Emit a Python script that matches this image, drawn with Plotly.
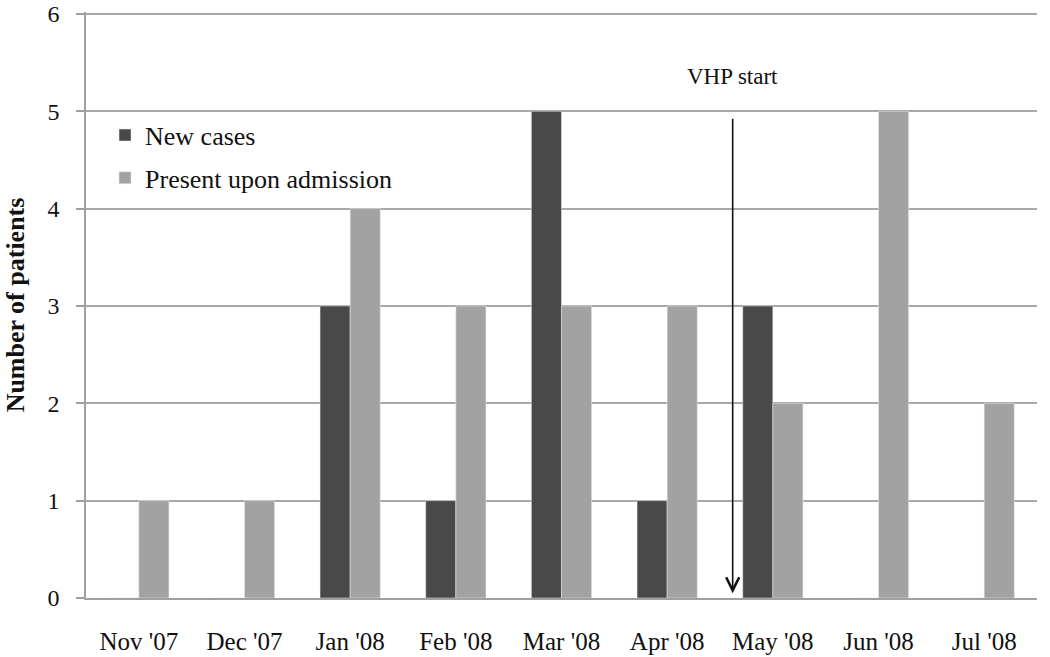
import plotly.graph_objects as go

months = ["Nov '07", "Dec '07", "Jan '08", "Feb '08", "Mar '08", "Apr '08", "May '08", "Jun '08", "Jul '08"]
new_cases = [0, 0, 3, 1, 5, 1, 3, 0, 0]
present_on_admission = [1, 1, 4, 3, 3, 3, 2, 5, 2]
y_ticks = [0, 1, 2, 3, 4, 5, 6]
vhp_start_pos = 5.62  # position between Apr '08 and May '08 (category index units)

FONT = "Liberation Serif, Times New Roman, serif"

fig = go.Figure()
fig.add_trace(go.Bar(x=months, y=new_cases, name="New cases",
                     marker_color="#494949", legendgroup="a"))
fig.add_trace(go.Bar(x=months, y=present_on_admission, name="Present upon admission",
                     marker_color="#a2a2a2", legendgroup="b"))

fig.add_annotation(x=vhp_start_pos, y=0.05, ax=vhp_start_pos, ay=4.94,
                   xref="x", yref="y", axref="x", ayref="y",
                   showarrow=True, arrowhead=5, arrowsize=1.6, arrowwidth=1.6,
                   arrowcolor="#111111", text="")
fig.add_annotation(x=vhp_start_pos, y=5.36, xref="x", yref="y", text="VHP start",
                   showarrow=False, font=dict(family=FONT, size=23, color="#111111"))

fig.update_layout(
    width=1050, height=657,
    margin=dict(l=86, r=13, t=12, b=59),
    plot_bgcolor="white", paper_bgcolor="white",
    barmode="group", bargap=0.43, bargroupgap=0,
    font=dict(family=FONT, size=25, color="#111111"),
    showlegend=True,
    legend=dict(x=0.02, y=0.83, xanchor="left", yanchor="top",
                bgcolor="rgba(0,0,0,0)", traceorder="grouped", tracegroupgap=6,
                font=dict(family=FONT, size=26, color="#111111")),
    xaxis=dict(type="category", automargin=False, showgrid=False, showline=True,
               linecolor="#a0a0a0", linewidth=1.5, ticks="", ticklabelstandoff=20,
               tickfont=dict(family=FONT, size=25)),
    yaxis=dict(range=[0, 6.02], tickvals=y_ticks, automargin=False, showgrid=True,
               gridcolor="#a8a8a8", gridwidth=1.5, showline=True, linecolor="#a0a0a0",
               linewidth=1.5, ticks="outside", ticklen=8, tickcolor="#a0a0a0", tickwidth=1.5,
               ticklabelstandoff=12, ticklabeloverflow="allow", zeroline=False,
               tickfont=dict(family=FONT, size=24),
               title=dict(text="<b>Number of patients</b>", standoff=15,
                          font=dict(family=FONT, size=26))),
)

fig.write_html("out.html", config={"displayModeBar": False},
               post_script="document.body.style.margin='0px';document.body.style.overflow='hidden';")
